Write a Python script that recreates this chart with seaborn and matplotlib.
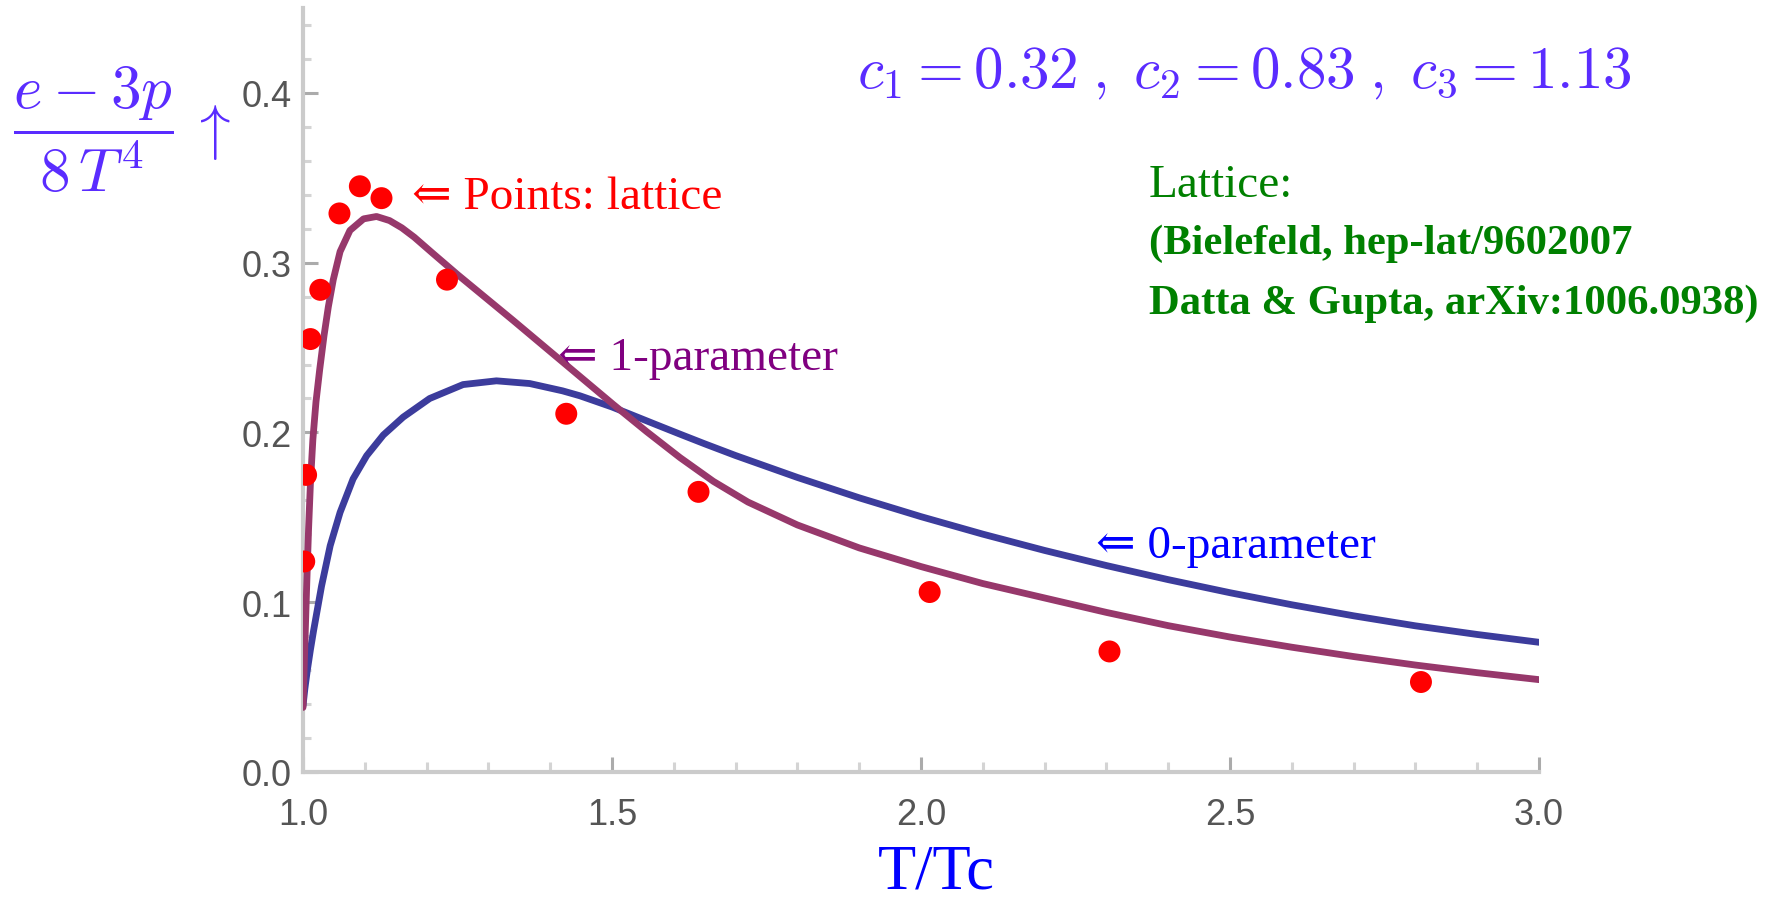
import matplotlib
matplotlib.use("Agg")
import matplotlib.pyplot as plt
import seaborn as sns
from matplotlib.ticker import MultipleLocator, FormatStrFormatter

# Lattice data: (e-3p)/(8 T^4) versus T/Tc
t_lattice = [1.002, 1.005, 1.012, 1.028, 1.059, 1.092, 1.127, 1.233, 1.426, 1.640, 2.014, 2.305, 2.809]
e3p_lattice = [0.124, 0.175, 0.255, 0.284, 0.329, 0.345, 0.338, 0.290, 0.211, 0.165, 0.106, 0.071, 0.053]

# 0-parameter model curve
t_zero = [1.000, 1.003, 1.007, 1.012, 1.017, 1.030, 1.044, 1.060, 1.081, 1.103, 1.130, 1.162,
          1.205, 1.259, 1.313, 1.367, 1.420, 1.448, 1.500, 1.529, 1.570, 1.610, 1.650, 1.700,
          1.800, 1.900, 2.000, 2.100, 2.200, 2.300, 2.400, 2.500, 2.600, 2.700, 2.800, 2.900,
          3.000]
e3p_zero = [0.039, 0.049, 0.060, 0.072, 0.083, 0.1095, 0.1333, 0.1529, 0.1726, 0.1863, 0.1985, 0.2090,
            0.2200, 0.2282, 0.2304, 0.2288, 0.2245, 0.2216, 0.2150, 0.2108, 0.2048, 0.1990, 0.1933, 0.1864,
            0.1735, 0.1615, 0.1504, 0.1401, 0.1305, 0.1216, 0.1133, 0.1056, 0.0985, 0.0920, 0.0861, 0.0810,
            0.0764]

# 1-parameter model curve
t_one = [1.000, 1.003, 1.006, 1.009, 1.012, 1.016, 1.021, 1.027, 1.034, 1.041, 1.049, 1.060,
         1.076, 1.098, 1.119, 1.140, 1.160, 1.180, 1.210, 1.250, 1.290, 1.340, 1.394, 1.448,
         1.502, 1.556, 1.610, 1.664, 1.720, 1.800, 1.900, 2.000, 2.100, 2.200, 2.300, 2.400,
         2.500, 2.600, 2.700, 2.800, 2.900, 3.000]
e3p_one = [0.038, 0.075, 0.110, 0.143, 0.170, 0.196, 0.218, 0.237, 0.257, 0.274, 0.290, 0.3065,
           0.3190, 0.3258, 0.3272, 0.3248, 0.3205, 0.3150, 0.3055, 0.2930, 0.2810, 0.2660, 0.2495, 0.2330,
           0.2165, 0.2005, 0.1852, 0.1712, 0.1590, 0.1455, 0.1320, 0.1210, 0.1110, 0.1025, 0.0940, 0.0862,
           0.0795, 0.0735, 0.0680, 0.0630, 0.0585, 0.0544]

x_ticks = [1.0, 1.5, 2.0, 2.5, 3.0]
y_ticks = [0.0, 0.1, 0.2, 0.3, 0.4]

sns.set_theme(style="white")
plt.rcParams["mathtext.fontset"] = "cm"
plt.rcParams["font.family"] = ["Liberation Serif", "DejaVu Serif"]

W, H = 1775, 904
fig = plt.figure(figsize=(W / 100, H / 100), dpi=100)
fig.patch.set_facecolor("white")
ax = fig.add_axes([303 / W, 131 / H, 1236 / W, 764 / H])
ax.set_facecolor("white")


def px(x, y):
    return x / W, 1 - y / H


sns.lineplot(x=t_zero, y=e3p_zero, ax=ax, color="#3c3c9c", linewidth=4.9, sort=False,
             estimator=None, zorder=3)
sns.lineplot(x=t_one, y=e3p_one, ax=ax, color="#97386b", linewidth=4.9, sort=False,
             estimator=None, zorder=4)
sns.scatterplot(x=t_lattice, y=e3p_lattice, ax=ax, color="#ff0000", s=250, edgecolor="none",
                linewidth=0, zorder=5)
for ln in ax.get_lines():
    ln.set_solid_joinstyle("round")
    ln.set_solid_capstyle("round")

ax.set_xlim(1.0, 3.0)
ax.set_ylim(0.0, 0.45)
ax.set_xticks(x_ticks)
ax.set_yticks(y_ticks)
ax.xaxis.set_minor_locator(MultipleLocator(0.1))
ax.yaxis.set_minor_locator(MultipleLocator(0.02))
ax.xaxis.set_major_formatter(FormatStrFormatter("%.1f"))
ax.yaxis.set_major_formatter(FormatStrFormatter("%.1f"))

for side in ("top", "right"):
    ax.spines[side].set_visible(False)
for side in ("left", "bottom"):
    ax.spines[side].set_color("#cbcbcb")
    ax.spines[side].set_linewidth(3.0)
    ax.spines[side].set_zorder(1)

ax.tick_params(which="both", bottom=True, left=True, top=False, right=False)
ax.tick_params(which="major", direction="in", length=11, width=2.2, color="#ababab",
               labelsize=26, labelcolor="#555555")
ax.tick_params(which="minor", direction="in", length=6, width=2.2, color="#d4d4d4")
ax.tick_params(axis="x", which="minor", length=7)
ax.tick_params(axis="x", which="major", pad=18)
ax.tick_params(axis="y", which="major", pad=8)
for lab in ax.get_xticklabels() + ax.get_yticklabels():
    lab.set_fontfamily(["Liberation Sans", "DejaVu Sans"])
ax.set_xlabel("")
ax.set_ylabel("")

violet = "#5a2cff"
# vertical axis label
fig.text(*px(93, 130), r"$\dfrac{e-3p}{8\,T^4}$", fontsize=44, color=violet,
         ha="center", va="center")
fig.text(*px(210, 133), r"$\uparrow$", fontsize=44, color=violet, ha="center", va="center")

# horizontal axis label
fig.text(*px(936, 889), "T/Tc", fontsize=45, color="#0000ff", ha="center", va="baseline")

# parameter values
fig.text(*px(857, 88), r"$c_1 = 0.32\;,\; c_2 = 0.83\;,\; c_3 = 1.13$", fontsize=42.5,
         color=violet, ha="left", va="baseline")

# curve annotations
fig.text(*px(412, 209), "⇐ Points: lattice", fontsize=34, color="#ff0000",
         ha="left", va="baseline")
fig.text(*px(558, 370), "⇐ 1-parameter", fontsize=34, color="#800080",
         ha="left", va="baseline")
fig.text(*px(1096, 558), "⇐ 0-parameter", fontsize=34, color="#0000ff",
         ha="left", va="baseline")

# lattice references
green = "#008000"
fig.text(*px(1149, 197), "Lattice:", fontsize=34, color=green, ha="left", va="baseline")
fig.text(*px(1149, 254), "(Bielefeld, hep-lat/9602007", fontsize=30.7, color=green,
         fontweight="bold", ha="left", va="baseline")
fig.text(*px(1149, 314), "Datta & Gupta, arXiv:1006.0938)", fontsize=30.7, color=green,
         fontweight="bold", ha="left", va="baseline")

fig.savefig("out.png", dpi=100, facecolor="white")
